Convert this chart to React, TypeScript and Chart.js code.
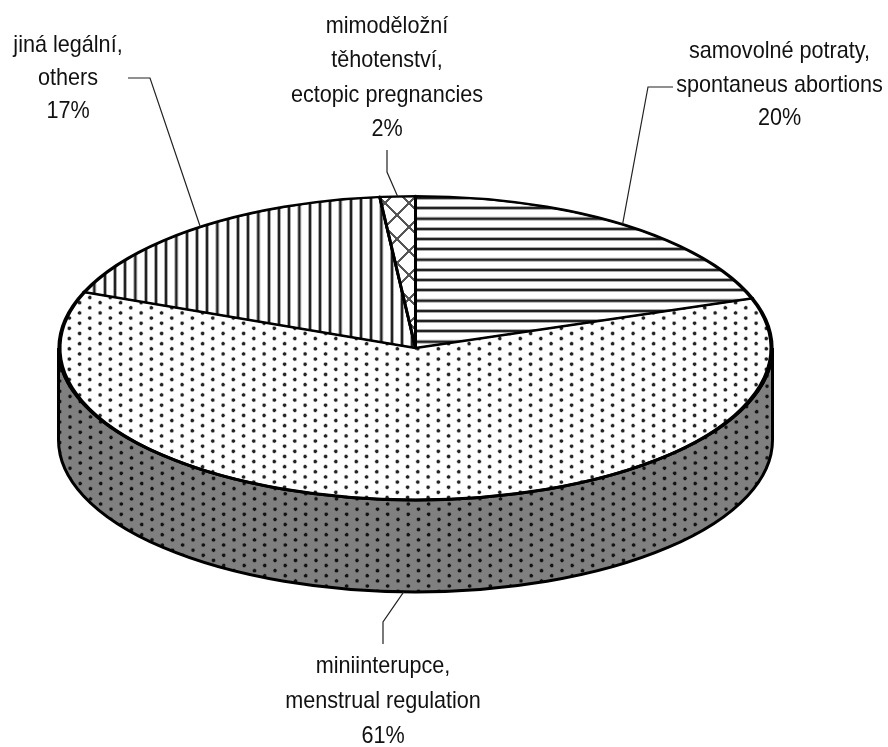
import React, { useEffect, useRef } from "react";
import { Chart, registerables } from "chart.js";

Chart.register(...registerables);

const categories = [
  ["samovolné potraty,", "spontaneus abortions"],
  ["miniinterupce,", "menstrual regulation"],
  ["jiná legální,", "others"],
  ["mimoděložní", "těhotenství,", "ectopic pregnancies"],
];
const shares = [19.7, 61.3, 17.4, 1.6];

const WIDTH = 888;
const HEIGHT = 747;
const CX = 415.5;
const CY = 348;
const RX = 357;
const RY = 152;
const DEPTH = 92;
const RATIO = RY / RX;
const LAYOUT_CX = WIDTH / 2;
const LAYOUT_CY = HEIGHT / 2;

const labelPlaces = [
  { x: 779.5, baseline: 58, lineHeight: 33.5 },
  { x: 383, baseline: 673, lineHeight: 35 },
  { x: 68, baseline: 52, lineHeight: 33 },
  { x: 387, baseline: 33, lineHeight: 34.3 },
];
const leaderKnees = [
  [{ x: 648, y: 87 }, { x: 673, y: 87 }],
  [{ x: 383, y: 622 }, { x: 383, y: 644 }],
  [{ x: 150, y: 78 }, { x: 128, y: 78 }],
  [{ x: 387, y: 172 }, { x: 387, y: 150 }],
];
const anchorNudge = [0, 0.011, 0, 0];

// Tile origin is given in device pixels, so the phase of each hatch is independent of the tilt.
function makePattern(
  ctx: CanvasRenderingContext2D,
  w: number,
  h: number,
  tilted: boolean,
  paint: (c: CanvasRenderingContext2D) => void,
  devX: number,
  devY: number
) {
  const k = 4;
  const tile = document.createElement("canvas");
  tile.width = Math.round(w * k);
  tile.height = Math.round(h * k);
  const c = tile.getContext("2d")!;
  c.scale(k, k);
  paint(c);
  const p = ctx.createPattern(tile, "repeat")!;
  const m = tilted
    ? new DOMMatrix()
        .translate(devX - (CX - LAYOUT_CX), (devY - (CY - RATIO * LAYOUT_CY)) / RATIO)
        .scale(1 / k, 1 / (k * RATIO))
    : new DOMMatrix().translate(devX, devY).scale(1 / k, 1 / k);
  p.setTransform(m);
  return p;
}

function dots(bg: string, core: string, halo: string) {
  return (c: CanvasRenderingContext2D) => {
    c.fillStyle = bg;
    c.fillRect(0, 0, 20.6, 10.3);
    for (const [x, y] of [[2.6, 2.6], [12.9, 7.75]]) {
      const g = c.createRadialGradient(x, y, 0.7, x, y, 2.6);
      g.addColorStop(0, core);
      g.addColorStop(0.35, core);
      g.addColorStop(0.5, halo);
      g.addColorStop(1, bg);
      c.fillStyle = g;
      c.beginPath();
      c.arc(x, y, 2.6, 0, Math.PI * 2);
      c.fill();
    }
  };
}

const hLines = (c: CanvasRenderingContext2D) => {
  c.fillStyle = "#fff";
  c.fillRect(0, 0, 10.25, 10.25);
  c.fillStyle = "#aaa";
  c.fillRect(0, 3, 10.25, 4);
  c.fillStyle = "#222";
  c.fillRect(0, 4, 10.25, 2);
};
const vLines = (c: CanvasRenderingContext2D) => {
  c.fillStyle = "#fff";
  c.fillRect(0, 0, 10.25, 10.25);
  c.fillStyle = "#aaa";
  c.fillRect(3, 0, 4, 10.25);
  c.fillStyle = "#222";
  c.fillRect(4, 0, 2, 10.25);
};
const cross = (c: CanvasRenderingContext2D) => {
  c.fillStyle = "#fff";
  c.fillRect(0, 0, 24, 24);
  c.strokeStyle = "#555";
  c.lineWidth = 2.2;
  c.beginPath();
  c.moveTo(0, 0);
  c.lineTo(24, 24);
  c.moveTo(24, 0);
  c.lineTo(0, 24);
  c.stroke();
};

function ellipsePoint(angle: number, drop = 0) {
  return { x: CX + RX * Math.cos(angle), y: CY + RY * Math.sin(angle) + drop };
}

const tilt = {
  id: "tilt",
  beforeDatasetsDraw(chart: any) {
    const ctx: CanvasRenderingContext2D = chart.ctx;
    const wallFill = makePattern(ctx, 20.6, 10.3, false, dots("#808080", "#111", "#505050"), 385.1, 501.4);
    ctx.save();
    ctx.beginPath();
    ctx.ellipse(CX, CY, RX, RY, 0, 0, Math.PI);
    ctx.lineTo(CX - RX, CY + DEPTH);
    ctx.ellipse(CX, CY + DEPTH, RX, RY, 0, Math.PI, 0, true);
    ctx.closePath();
    ctx.fillStyle = wallFill;
    ctx.fill();
    ctx.strokeStyle = "#000";
    ctx.lineWidth = 3;
    ctx.stroke();
    ctx.restore();

    ctx.save();
    ctx.translate(CX - LAYOUT_CX, CY);
    ctx.scale(1, RATIO);
    ctx.translate(0, -LAYOUT_CY);
  },
  afterDatasetsDraw(chart: any) {
    const ctx: CanvasRenderingContext2D = chart.ctx;
    ctx.restore();

    const arcs = chart.getDatasetMeta(0).data;

    // Rim and slice edges at an even weight, undoing the thinning caused by the tilt.
    ctx.save();
    ctx.strokeStyle = "#000";
    ctx.lineWidth = 3;
    ctx.beginPath();
    ctx.ellipse(CX, CY, RX, RY, 0, 0, Math.PI);
    ctx.stroke();
    ctx.lineWidth = 2.2;
    ctx.beginPath();
    ctx.ellipse(CX, CY, RX, RY, 0, Math.PI, Math.PI * 2);
    ctx.stroke();
    ctx.lineWidth = 2.6;
    ctx.lineCap = "round";
    arcs.forEach((a: any) => {
      const p = ellipsePoint(a.startAngle);
      ctx.beginPath();
      ctx.moveTo(CX, CY);
      ctx.lineTo(p.x, p.y);
      ctx.stroke();
    });
    ctx.restore();

    ctx.save();
    ctx.fillStyle = "#111";
    ctx.strokeStyle = "#222";
    ctx.lineWidth = 1.2;
    ctx.textAlign = "center";
    ctx.textBaseline = "alphabetic";
    const total = shares.reduce((a, b) => a + b, 0);
    categories.forEach((lines, i) => {
      const a = arcs[i];
      const mid = (a.startAngle + a.endAngle) / 2 + anchorNudge[i];
      const onFront = Math.sin(mid) > 0;
      const s = ellipsePoint(mid, onFront ? DEPTH : 0);
      ctx.beginPath();
      ctx.moveTo(s.x, s.y);
      leaderKnees[i].forEach((k) => ctx.lineTo(k.x, k.y));
      ctx.stroke();

      const text = [...lines, `${Math.round((shares[i] / total) * 100)}%`];
      const place = labelPlaces[i];
      text.forEach((t, j) => {
        ctx.save();
        ctx.translate(place.x, place.baseline + j * place.lineHeight);
        ctx.scale(0.9, 1);
        ctx.font = '24px "Liberation Sans"';
        ctx.fillText(t, 0, 0);
        ctx.restore();
      });
    });
    ctx.restore();
  },
};

export default function App() {
  const ref = useRef<HTMLCanvasElement>(null);
  useEffect(() => {
    const canvas = ref.current!;
    const ctx = canvas.getContext("2d")!;
    const fills = [
      makePattern(ctx, 10.25, 10.25, true, hLines, 345.7, 203.3),
      makePattern(ctx, 20.6, 10.3, true, dots("#ffffff", "#222222", "#999999"), 66.7, 325.7),
      makePattern(ctx, 10.25, 10.25, true, vLines, 345.7, 200),
      makePattern(ctx, 24, 24, true, cross, 385, 203),
    ];
    const chart = new Chart(canvas, {
      type: "pie",
      data: {
        labels: categories.map((l) => l.join(" ")),
        datasets: [
          {
            data: shares,
            backgroundColor: fills as any,
            borderColor: "#000",
            borderWidth: 3,
            borderJoinStyle: "round",
          } as any,
        ],
      },
      options: {
        responsive: false,
        animation: false,
        events: [],
        layout: {
          padding: {
            left: 0,
            right: 0,
            top: (HEIGHT - 2 * RX) / 2,
            bottom: (HEIGHT - 2 * RX) / 2,
          },
        },
        plugins: { legend: { display: false }, tooltip: { enabled: false } },
      },
      plugins: [tilt],
    });
    return () => chart.destroy();
  }, []);
  return (
    <div style={{ position: "absolute", left: 0, top: 0, width: WIDTH, height: HEIGHT, background: "#fff" }}>
      <canvas ref={ref} width={WIDTH} height={HEIGHT} style={{ display: "block" }} />
    </div>
  );
}
